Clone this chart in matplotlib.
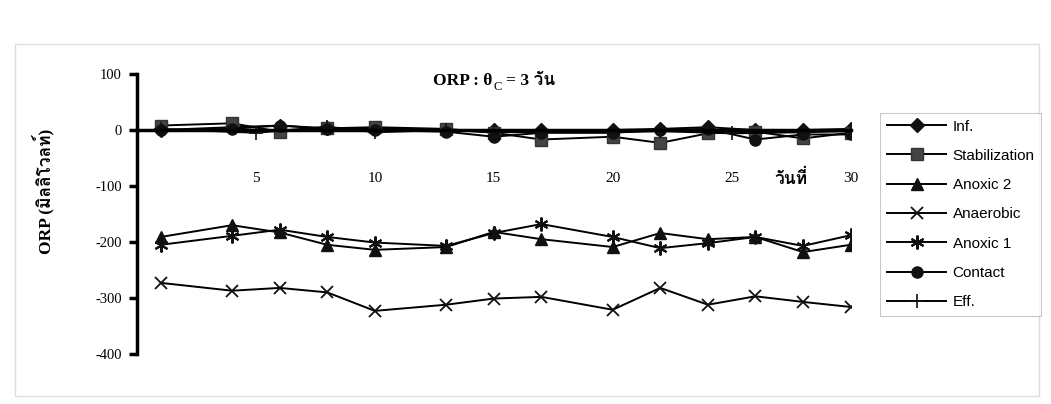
import matplotlib
matplotlib.use("Agg")
import matplotlib.pyplot as plt
from matplotlib import font_manager
from matplotlib.ft2font import FT2Font
from matplotlib.patches import Rectangle

# วันที่ (day of run)
days = [1, 4, 6, 8, 10, 13, 15, 17, 20, 22, 24, 26, 28, 30]

inf = [0, 5, 8, 3, 3, 0, 0, 0, 0, 2, 5, 0, 0, 2]
stabilization = [8, 12, -3, 3, 5, 2, -5, -17, -12, -23, -6, -3, -15, -5]
anoxic2 = [-191, -170, -183, -205, -214, -209, -182, -195, -209, -184, -195, -191, -218, -205]
anaerobic = [-273, -287, -282, -290, -323, -312, -301, -298, -321, -282, -312, -297, -307, -316]
anoxic1 = [-205, -189, -178, -191, -201, -207, -184, -168, -191, -211, -202, -191, -207, -188]
contact = [0, 2, 8, 2, 0, -3, -12, -5, -5, 0, 2, -17, -8, -8]

eff_days = [1, 5, 8, 10, 13, 15, 17, 20, 22, 25, 28, 30]
eff = [2, -5, 6, -4, 0, -4, -4, -4, -2, -6, -4, -2]


# หาฟอนต์ที่มีอักษรไทย
def thai_families():
    found = []
    for f in font_manager.fontManager.ttflist:
        try:
            cmap = FT2Font(f.fname).get_charmap()
        except Exception:
            continue
        if 0x0E27 in cmap and 0x0E34 in cmap and f.name not in found:
            found.append(f.name)
    return found


thai = thai_families()
serif = ["Liberation Serif"] + thai + ["DejaVu Sans"]
sans = ["Liberation Sans", "DejaVu Sans"]

fig = plt.figure(figsize=(10.51, 4.04), dpi=100)
fig.add_artist(Rectangle((0.014, 0.02), 0.975, 0.87, transform=fig.transFigure,
                         fill=False, edgecolor="#dddddd", lw=1))

ax = fig.add_axes([0.1303, 0.1238, 0.679, 0.693])

ln = dict(color="black", lw=1.4, mec="#111111", mfc="#111111")
ax.plot(days, inf, marker="D", ms=7, label="Inf.", **ln)
ax.plot(days, stabilization, marker="s", ms=8, label="Stabilization",
        color="black", lw=1.4, mec="#333333", mfc="#444444")
ax.plot(days, anoxic2, marker="^", ms=8, label="Anoxic 2", **ln)
ax.plot(days, anaerobic, marker="x", ms=9, mew=1.3, label="Anaerobic", **ln)
ax.plot(days, anoxic1, marker=(6, 2, 0), ms=10, mew=1.5, label="Anoxic 1", **ln)
ax.plot(days, contact, marker="o", ms=8, label="Contact", **ln)
ax.plot(eff_days, eff, marker="+", ms=10, mew=1.2, label="Eff.", **ln)

ax.set_xlim(0, 30)
ax.set_ylim(-400, 100)
ax.spines["top"].set_visible(False)
ax.spines["right"].set_visible(False)
ax.spines["bottom"].set_position(("data", 0))
ax.spines["bottom"].set_linewidth(2.5)
ax.spines["left"].set_linewidth(2.5)
ax.set_yticks([100, 0, -100, -200, -300, -400])
ax.set_yticklabels(["100", "0", "-100", "-200", "-300", "-400"],
                   family=serif, fontsize=10.5)
ax.tick_params(axis="y", direction="out", length=6, width=2.5, pad=5)
ax.set_xticks([5, 10, 15, 20, 25, 30])
ax.set_xticklabels(["5", "10", "15", "20", "25", "30"], family=serif, fontsize=11)
ax.tick_params(axis="x", length=0, pad=30)

ax.text(27.5, -88, "วันที่", family=serif, fontsize=12.5, fontweight="bold",
        ha="center", va="center")
ax.set_ylabel("ORP (มิลลิโวลท์)", family=serif, fontsize=12.5, fontweight="bold")
ax.yaxis.set_label_coords(-0.116, 0.58)

# ชื่อกราฟ: ORP : θc = 3 วัน
t1 = fig.text(433 / 1051, 0.78, "ORP : θ", family=serif, fontsize=12.5,
              fontweight="bold", ha="left", va="bottom")
ax.annotate("C", xy=(1, 0), xycoords=t1, xytext=(0.5, -3),
            textcoords="offset points", family=serif, fontsize=9,
            ha="left", va="bottom", annotation_clip=False)
ax.annotate("= 3 วัน", xy=(1, 0), xycoords=t1, xytext=(10, 0),
            textcoords="offset points", family=serif, fontsize=12.5,
            fontweight="bold", ha="left", va="bottom", annotation_clip=False)

leg = fig.legend(loc="upper left", bbox_to_anchor=(0.83, 0.74), frameon=True,
                 fancybox=False, edgecolor="#bbbbbb", prop={"family": sans, "size": 11},
                 handlelength=3.9, labelspacing=1.0, borderpad=0.45,
                 handletextpad=0.4)
leg.get_frame().set_linewidth(0.8)

fig.savefig("out.png", dpi=100)
